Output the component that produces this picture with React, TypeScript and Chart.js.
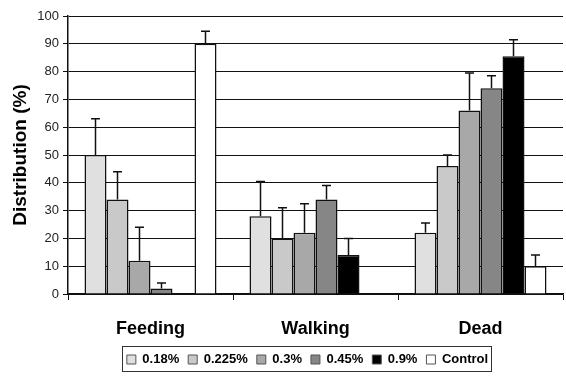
import React, { useEffect, useRef } from "react";
import { Chart, registerables } from "chart.js";

Chart.register(...registerables);

const categories = ["Feeding", "Walking", "Dead"];
const seriesNames = ["0.18%", "0.225%", "0.3%", "0.45%", "0.9%", "Control"];
const seriesColors = ["#e0e0e0", "#c9c9c9", "#a8a8a8", "#868686", "#000000", "#ffffff"];

const v018 = [50, 28, 22];
const v0225 = [34, 20, 46];
const v03 = [12, 22, 66];
const v045 = [2, 34, 74];
const v09 = [null, 14, 85.5];
const vCtrl = [90, null, 10];

const e018 = [63, 40.5, 25.5];
const e0225 = [44, 31, 50];
const e03 = [24, 32.5, 79.5];
const e045 = [4, 39, 78.5];
const e09 = [null, 20, 91.5];
const eCtrl = [94.5, null, 14];

const yTicks = [0, 10, 20, 30, 40, 50, 60, 70, 80, 90, 100];

const seriesValues = [v018, v0225, v03, v045, v09, vCtrl];
const seriesErrors = [e018, e0225, e03, e045, e09, eCtrl];

const FONT = "Liberation Sans, Arial, sans-serif";
const LEGEND_SHIFT = 26;

const errorBarPlugin = {
  id: "errorBars",
  afterDatasetsDraw(chart: any) {
    const ctx = chart.ctx;
    const yScale = chart.scales.y;
    ctx.save();
    ctx.strokeStyle = "#111";
    ctx.lineWidth = 1.5;
    chart.data.datasets.forEach((ds: any, i: number) => {
      const meta = chart.getDatasetMeta(i);
      const errs = seriesErrors[i];
      meta.data.forEach((bar: any, j: number) => {
        const e = errs[j];
        const v = ds.data[j];
        if (e == null || v == null) return;
        const x = bar.x;
        const yb = bar.y;
        const yt = yScale.getPixelForValue(e);
        ctx.beginPath();
        ctx.moveTo(x, yb);
        ctx.lineTo(x, yt);
        ctx.moveTo(x - 4.5, yt);
        ctx.lineTo(x + 4.5, yt);
        ctx.stroke();
      });
    });
    ctx.restore();
  },
};

const legendShiftPlugin = {
  id: "legendShift",
  afterLayout(chart: any) {
    const lg = chart.legend;
    if (!lg) return;
    lg.left += LEGEND_SHIFT;
    lg.right += LEGEND_SHIFT;
  },
};

const legendBorderPlugin = {
  id: "legendBorder",
  afterDraw(chart: any) {
    const lg = chart.legend;
    if (!lg || !lg.legendHitBoxes || !lg.legendHitBoxes.length) return;
    const boxes = lg.legendHitBoxes;
    let l = Infinity, r = -Infinity, t = Infinity, b = -Infinity;
    boxes.forEach((h: any) => {
      l = Math.min(l, h.left);
      r = Math.max(r, h.left + h.width);
      t = Math.min(t, h.top);
      b = Math.max(b, h.top + h.height);
    });
    const ctx = chart.ctx;
    ctx.save();
    ctx.strokeStyle = "#333";
    ctx.lineWidth = 1;
    ctx.strokeRect(Math.round(l - 5) + 0.5, Math.round(t - 7) + 0.5, Math.round(r - l + 8), Math.round(b - t + 12));
    ctx.restore();
  },
};

export default function App() {
  const ref = useRef<HTMLCanvasElement | null>(null);
  useEffect(() => {
    if (!ref.current) return;
    const chart = new Chart(ref.current, {
      type: "bar",
      data: {
        labels: categories,
        datasets: seriesNames.map((name, i) => ({
          label: name,
          data: seriesValues[i] as any,
          backgroundColor: seriesColors[i],
          borderColor: "#111",
          borderWidth: 1.5,
          barPercentage: 1,
          categoryPercentage: 0.8,
        })),
      },
      options: {
        animation: false,
        responsive: true,
        maintainAspectRatio: false,
        layout: { padding: { top: 16, right: 3, left: 0, bottom: 4 } },
        plugins: {
          tooltip: { enabled: false },
          legend: {
            position: "bottom",
            labels: {
              color: "#000",
              boxWidth: 9,
              boxHeight: 9,
              padding: 9,
              font: { family: FONT, size: 13, weight: "bold" },
              generateLabels(chart: any) {
                return chart.data.datasets.map((ds: any, i: number) => ({
                  text: ds.label,
                  fillStyle: ds.backgroundColor,
                  strokeStyle: "#555",
                  lineWidth: 1,
                  hidden: false,
                  datasetIndex: i,
                  fontColor: "#000",
                }));
              },
            },
          },
        },
        scales: {
          x: {
            afterFit(scale: any) {
              scale.height = 50;
            },
            grid: {
              offset: true,
              drawOnChartArea: false,
              drawTicks: true,
              tickLength: 6,
              color: "#111",
              lineWidth: 1,
            },
            border: { display: true, color: "#111", width: 1.5 },
            ticks: {
              color: "#000",
              padding: 18,
              font: { family: FONT, size: 18, weight: "bold" },
            },
          },
          y: {
            min: 0,
            max: 100,
            afterBuildTicks(scale: any) {
              scale.ticks = yTicks.map((v) => ({ value: v }));
            },
            afterFit(scale: any) {
              scale.width = 68;
            },
            grid: {
              color: "#111",
              lineWidth: 1,
              drawTicks: true,
              tickLength: 5,
            },
            border: { display: true, color: "#111", width: 1.5 },
            ticks: {
              color: "#222",
              padding: 4,
              font: { family: FONT, size: 13 },
            },
            title: {
              display: true,
              text: "Distribution (%)",
              color: "#000",
              padding: { top: 9, bottom: 0 },
              font: { family: FONT, size: 19, weight: "bold" },
            },
          },
        },
      },
      plugins: [legendShiftPlugin, errorBarPlugin, legendBorderPlugin],
    });
    return () => chart.destroy();
  }, []);
  return (
    <div style={{ position: "fixed", left: 0, top: 0, width: 566, height: 380, background: "#fff" }}>
      <canvas ref={ref} />
    </div>
  );
}
